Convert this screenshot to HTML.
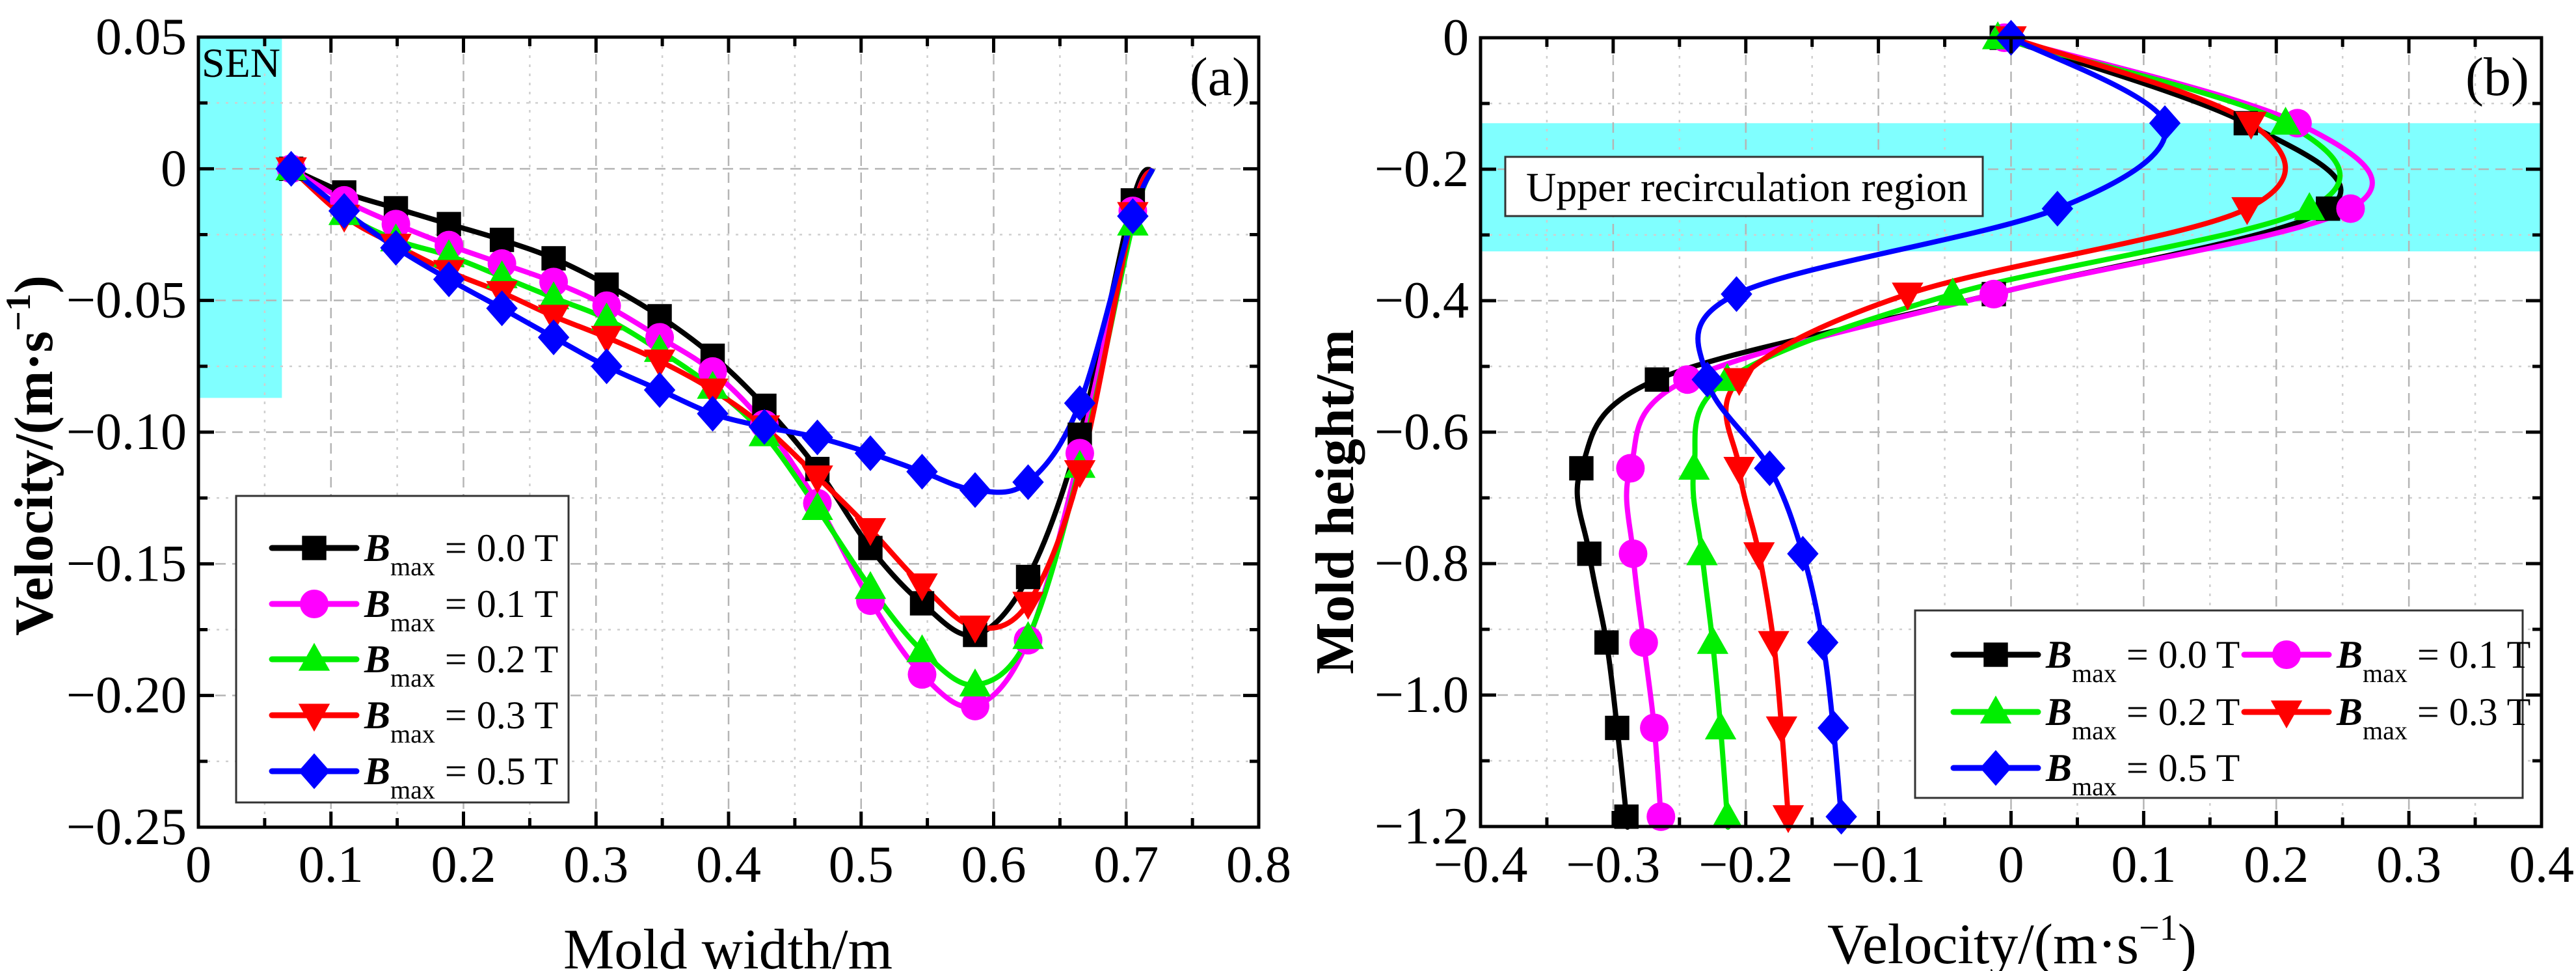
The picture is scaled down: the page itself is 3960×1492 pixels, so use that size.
<!DOCTYPE html>
<html><head><meta charset="utf-8">
<style>
html,body{margin:0;padding:0;background:#fff;}
svg{display:block;font-family:"Liberation Serif",serif;}
</style></head>
<body>
<svg id="fig" width="3960" height="1492" viewBox="0 0 3960 1492" xmlns="http://www.w3.org/2000/svg"></svg>
<script>
// ---------- Data: panel (a) ----------
const aX = [0.070,0.110,0.149,0.189,0.229,0.268,0.308,0.348,0.388,0.427,0.467,0.507,0.546,0.586,0.626,0.665,0.705];
const aB00 = [0,-0.009,-0.015,-0.021,-0.027,-0.034,-0.044,-0.056,-0.071,-0.090,-0.114,-0.144,-0.165,-0.177,-0.155,-0.101,-0.012];
const aB01 = [0,-0.012,-0.021,-0.029,-0.036,-0.043,-0.052,-0.064,-0.077,-0.097,-0.127,-0.164,-0.192,-0.204,-0.179,-0.108,-0.016];
const aB02 = [0,-0.017,-0.027,-0.033,-0.041,-0.049,-0.057,-0.069,-0.083,-0.101,-0.129,-0.159,-0.183,-0.196,-0.178,-0.113,-0.021];
const aB03 = [0,-0.018,-0.029,-0.039,-0.047,-0.056,-0.064,-0.073,-0.084,-0.098,-0.117,-0.137,-0.158,-0.174,-0.165,-0.115,-0.017];
const aB05 = [0,-0.016,-0.030,-0.042,-0.053,-0.064,-0.075,-0.084,-0.093,-0.098,-0.102,-0.108,-0.115,-0.122,-0.119,-0.089,-0.018];
const aEndX = 0.720, aEndY = 0.0;
const aXTicks = ["0","0.1","0.2","0.3","0.4","0.5","0.6","0.7","0.8"];
const aYTicks = ["\u22120.25","\u22120.20","\u22120.15","\u22120.10","\u22120.05","0","0.05"];
// ---------- Data: panel (b) ----------
const bY = [0,-0.13,-0.26,-0.39,-0.52,-0.655,-0.785,-0.92,-1.05,-1.185];
const bB00 = [-0.007,0.177,0.239,-0.013,-0.267,-0.324,-0.318,-0.305,-0.297,-0.290];
const bB01 = [-0.005,0.216,0.256,-0.013,-0.244,-0.287,-0.285,-0.277,-0.269,-0.264];
const bB02 = [-0.010,0.207,0.225,-0.044,-0.214,-0.239,-0.233,-0.225,-0.219,-0.214];
const bB03 = [0.000,0.181,0.178,-0.078,-0.205,-0.205,-0.190,-0.179,-0.173,-0.168];
const bB05 = [0.000,0.116,0.035,-0.207,-0.229,-0.182,-0.157,-0.142,-0.134,-0.128];
const bXTicks = ["\u22120.4","\u22120.3","\u22120.2","\u22120.1","0","0.1","0.2","0.3","0.4"];
const bYTicks = ["\u22121.2","\u22121.0","\u22120.8","\u22120.6","\u22120.4","\u22120.2","0"];
const seriesLabels = ["0.0","0.1","0.2","0.3","0.5"];
const colors = ["#000000","#ff00ff","#00ee00","#ff0000","#0000ff"];
const markers = ["square","circle","triangle","tri-down","diamond"];

const NS="http://www.w3.org/2000/svg";
const svg=document.getElementById('fig');
function mk(tag,attrs,parent){const e=document.createElementNS(NS,tag);for(const k in attrs)e.setAttribute(k,attrs[k]);(parent||svg).appendChild(e);return e;}

const A={l:305,r:1935,t:57,b:1271,x0:0,x1:0.8,y0:-0.25,y1:0.05};
const B={l:2276,r:3907,t:58,b:1270,x0:-0.4,x1:0.4,y0:-1.2,y1:0};
function sx(P,v){return P.l+(v-P.x0)/(P.x1-P.x0)*(P.r-P.l);}
function sy(P,v){return P.b-(v-P.y0)/(P.y1-P.y0)*(P.b-P.t);}

function spline(pts){
  let d="M"+pts[0][0].toFixed(1)+","+pts[0][1].toFixed(1);
  for(let i=0;i<pts.length-1;i++){
    const p0=pts[Math.max(0,i-1)],p1=pts[i],p2=pts[i+1],p3=pts[Math.min(pts.length-1,i+2)];
    const c1x=p1[0]+(p2[0]-p0[0])/6,c1y=p1[1]+(p2[1]-p0[1])/6;
    const c2x=p2[0]-(p3[0]-p1[0])/6,c2y=p2[1]-(p3[1]-p1[1])/6;
    d+=` C${c1x.toFixed(1)},${c1y.toFixed(1)} ${c2x.toFixed(1)},${c2y.toFixed(1)} ${p2[0].toFixed(1)},${p2[1].toFixed(1)}`;
  }
  return d;
}
function marker(g,type,x,y,c,s){
  let e;
  if(type==="square") e=mk('rect',{x:x-s*0.85,y:y-s*0.85,width:s*1.7,height:s*1.7,fill:c},g);
  else if(type==="circle") e=mk('circle',{cx:x,cy:y,r:s,fill:c},g);
  else if(type==="triangle") e=mk('polygon',{points:`${x},${y-s*1.15} ${x+s*1.1},${y+s*0.8} ${x-s*1.1},${y+s*0.8}`,fill:c},g);
  else if(type==="tri-down") e=mk('polygon',{points:`${x},${y+s*1.15} ${x+s*1.1},${y-s*0.8} ${x-s*1.1},${y-s*0.8}`,fill:c},g);
  else e=mk('polygon',{points:`${x},${y-s*1.25} ${x+s*1.1},${y} ${x},${y+s*1.25} ${x-s*1.1},${y}`,fill:c},g);
  
  
  return e;
}
function grid(P,xMaj,xMin,yMaj,yMin,name){
  const g=mk('g',{});
  
  
  xMin.forEach(v=>mk('line',{x1:sx(P,v),x2:sx(P,v),y1:P.t,y2:P.b,stroke:'#cfcfcf','stroke-width':2.5,'stroke-dasharray':'4 10'},g));
  yMin.forEach(v=>mk('line',{y1:sy(P,v),y2:sy(P,v),x1:P.l,x2:P.r,stroke:'#cfcfcf','stroke-width':2.5,'stroke-dasharray':'4 10'},g));
  xMaj.forEach(v=>mk('line',{x1:sx(P,v),x2:sx(P,v),y1:P.t,y2:P.b,stroke:'#b5b5b5','stroke-width':2.5,'stroke-dasharray':'16 10'},g));
  yMaj.forEach(v=>mk('line',{y1:sy(P,v),y2:sy(P,v),x1:P.l,x2:P.r,stroke:'#b5b5b5','stroke-width':2.5,'stroke-dasharray':'16 10'},g));
}
function frame(P,xMaj,xMin,yMaj,yMin,xLab,yLab,name){
  const g=mk('g',{});
  
  
  mk('rect',{x:P.l,y:P.t,width:P.r-P.l,height:P.b-P.t,fill:'none',stroke:'#000','stroke-width':5},g);
  xMaj.forEach((v,i)=>{const x=sx(P,v);
    mk('line',{x1:x,x2:x,y1:P.b,y2:P.b-24,stroke:'#000','stroke-width':5},g);
    mk('line',{x1:x,x2:x,y1:P.t,y2:P.t+24,stroke:'#000','stroke-width':5},g);
    const t=mk('text',{x:x,y:1355,'font-size':80,'text-anchor':'middle'},g);t.textContent=xLab[i];
    
    });
  xMin.forEach(v=>{const x=sx(P,v);
    mk('line',{x1:x,x2:x,y1:P.b,y2:P.b-14,stroke:'#000','stroke-width':5},g);
    mk('line',{x1:x,x2:x,y1:P.t,y2:P.t+14,stroke:'#000','stroke-width':5},g);});
  yMaj.forEach((v,i)=>{const y=sy(P,v);
    mk('line',{y1:y,y2:y,x1:P.l,x2:P.l+24,stroke:'#000','stroke-width':5},g);
    mk('line',{y1:y,y2:y,x1:P.r,x2:P.r-24,stroke:'#000','stroke-width':5},g);
    const t=mk('text',{x:P.l-18,y:y+26,'font-size':80,'text-anchor':'end'},g);t.textContent=yLab[i];
    
    });
  yMin.forEach(v=>{const y=sy(P,v);
    mk('line',{y1:y,y2:y,x1:P.l,x2:P.l+14,stroke:'#000','stroke-width':5},g);
    mk('line',{y1:y,y2:y,x1:P.r,x2:P.r-14,stroke:'#000','stroke-width':5},g);});
}
function rng(a,b,s){const o=[];for(let v=a;v<=b+1e-9;v+=s)o.push(+v.toFixed(4));return o;}
function legendEntry(g,x,y,i){
  const e=mk('g',{},g);
  
  
  mk('line',{x1:x,x2:x+130,y1:y,y2:y,stroke:colors[i],'stroke-width':9,'stroke-linecap':'round'},e);
  marker(e,markers[i],x+65,y,colors[i],22);
  const t=mk('text',{x:x+142,y:y+20,'font-size':60},e);
  t.innerHTML=`<tspan font-weight="bold" font-style="italic">B</tspan><tspan font-size="40" dy="22">max</tspan><tspan dy="-22"> = ${seriesLabels[i]} T</tspan>`;
}

// ---------- Panel (a) ----------
const sen=mk('rect',{x:A.l,y:A.t,width:sx(A,0.063)-A.l,height:sy(A,-0.087)-A.t,fill:'#80ffff'});


grid(A,rng(0.1,0.7,0.1),rng(0.05,0.75,0.1),rng(-0.2,0.0,0.05),rng(-0.225,0.025,0.05),'panel-a');
const aSeries=[aB00,aB01,aB02,aB03,aB05];
aSeries.forEach((arr,i)=>{
  const g=mk('g',{});
  
  
  const pts=aX.map((x,j)=>[sx(A,x),sy(A,arr[j])]);
  pts.push([sx(A,aEndX),sy(A,aEndY)]);
  mk('path',{d:spline(pts),fill:'none',stroke:colors[i],'stroke-width':8},g);
});
aSeries.forEach((arr,i)=>{
  const g=mk('g',{});
  
  
  aX.forEach((x,j)=>marker(g,markers[i],sx(A,x),sy(A,arr[j]),colors[i],22));
});
frame(A,rng(0,0.8,0.1),rng(0.05,0.75,0.1),rng(-0.25,0.05,0.05),rng(-0.225,0.025,0.05),aXTicks,aYTicks,'panel-a');
let t=mk('text',{x:310,y:118,'font-size':64});t.textContent='SEN';

t=mk('text',{x:1922,y:146,'font-size':84,'text-anchor':'end'});t.textContent='(a)';

t=mk('text',{x:1119,y:1488,'font-size':88,'text-anchor':'middle'});t.textContent='Mold width/m';

t=mk('text',{x:0,y:0,'font-size':84,'font-weight':'bold','text-anchor':'middle',transform:'translate(80,700) rotate(-90)'});
t.innerHTML='Velocity/(m·s<tspan font-size="54" dy="-34">\u22121</tspan><tspan dy="34">)</tspan>';

const legA=mk('g',{});

mk('rect',{x:363,y:762,width:511,height:471,fill:'#fff',stroke:'#333','stroke-width':3},legA);
[842,928,1013,1099,1185].forEach((y,i)=>legendEntry(legA,418,y,i));

// ---------- Panel (b) ----------
const band=mk('rect',{x:B.l,y:sy(B,-0.13),width:B.r-B.l,height:sy(B,-0.325)-sy(B,-0.13),fill:'#80ffff'});

grid(B,rng(-0.3,0.3,0.1),rng(-0.35,0.35,0.1),rng(-1.0,-0.2,0.2),rng(-1.1,-0.1,0.2),'panel-b');
const bSeries=[bB00,bB01,bB02,bB03,bB05];
bSeries.forEach((arr,i)=>{
  const g=mk('g',{});
  
  
  const pts=bY.map((y,j)=>[sx(B,arr[j]),sy(B,y)]);
  const n=arr.length;
  pts.push([sx(B,arr[n-1]+(arr[n-1]-arr[n-2])*0.11),sy(B,-1.2)]);
  mk('path',{d:spline(pts),fill:'none',stroke:colors[i],'stroke-width':8},g);
});
bSeries.forEach((arr,i)=>{
  const g=mk('g',{});
  
  
  bY.forEach((y,j)=>marker(g,markers[i],sx(B,arr[j]),sy(B,y),colors[i],22));
});
frame(B,rng(-0.4,0.4,0.1),rng(-0.35,0.35,0.1),rng(-1.2,0,0.2),rng(-1.1,-0.1,0.2),bXTicks,bYTicks,'panel-b');
const ub=mk('g',{});
mk('rect',{x:2314,y:241,width:734,height:91,fill:'#fff',stroke:'#333','stroke-width':3},ub);
t=mk('text',{x:2346,y:309,'font-size':64},ub);t.textContent='Upper recirculation region';
t=mk('text',{x:3888,y:146,'font-size':84,'text-anchor':'end'});t.textContent='(b)';

t=mk('text',{x:3093,y:1480,'font-size':88,'text-anchor':'middle'});
t.innerHTML='Velocity/(m·s<tspan font-size="56" dy="-36">\u22121</tspan><tspan dy="36">)</tspan>';

t=mk('text',{x:0,y:0,'font-size':84,'font-weight':'bold','text-anchor':'middle',transform:'translate(2080,771) rotate(-90)'});
t.textContent='Mold height/m';

const legB=mk('g',{});

mk('rect',{x:2944,y:938,width:934,height:288,fill:'#fff',stroke:'#333','stroke-width':3},legB);
legendEntry(legB,3003,1006,0);
legendEntry(legB,3450,1006,1);
legendEntry(legB,3003,1094,2);
legendEntry(legB,3450,1094,3);
legendEntry(legB,3003,1180,4);
</script>
</body></html>
